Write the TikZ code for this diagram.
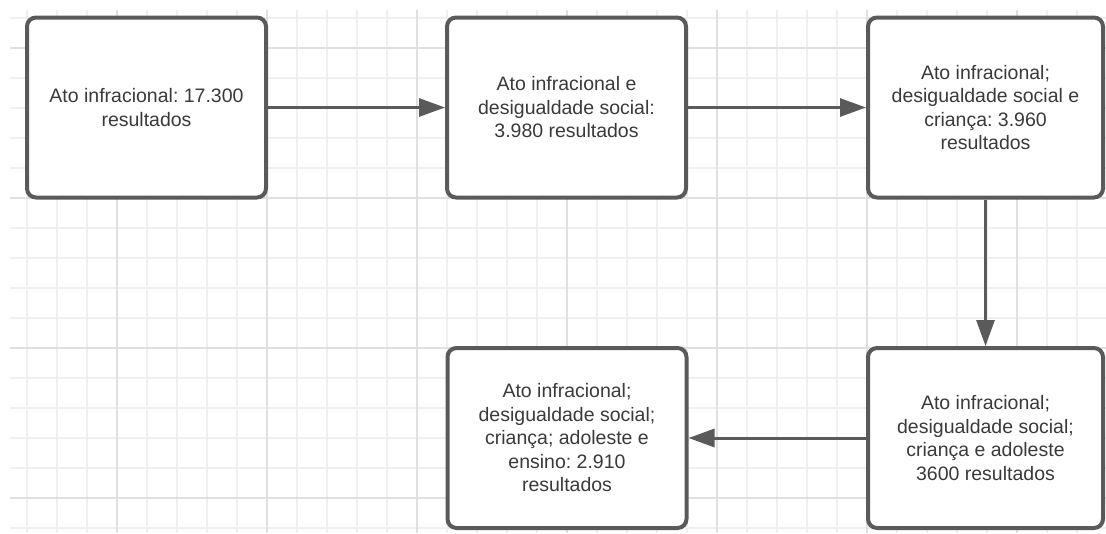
\documentclass[tikz,border=0pt]{standalone}
\usepackage{fontspec}
\setmainfont{Liberation Sans}
\usetikzlibrary{arrows.meta}
\frenchspacing
\definecolor{boxgray}{HTML}{5A5A5A}
\definecolor{gridlight}{HTML}{EFEFEF}
\definecolor{griddark}{HTML}{E0E0E0}
\definecolor{textgray}{HTML}{3A3A3A}
\tikzset{
	etapa/.style={draw=boxgray, line width=4pt, rounded corners=9pt, fill=white,
		minimum width=239pt, minimum height=180pt, inner sep=0pt, align=center,
		text=textgray, font=\fontsize{19.5}{23.5}\selectfont},
	seta/.style={draw=boxgray, line width=3pt, -{Triangle[length=26pt,width=18pt]}},
	grade/.style={line width=2pt}
}
\begin{document}
\begin{tikzpicture}[x=1pt, y=-1pt]
			\def \xmin{10}
			\def \xmax{1106}
			\def \ymin{10}
			\def \ymax{533}
			\useasboundingbox (0,0) rectangle (1106,533);
			\foreach \x in {27,57,...,1077} \draw[grade, gridlight] (\x,\ymin)--(\x,\ymax);
			\foreach \y in {18,48,...,528} \draw[grade, gridlight] (\xmin,\y)--(\xmax,\y);
			\foreach \x in {117,267,...,1017} \draw[grade, griddark] (\x,\ymin)--(\x,\ymax);
			\foreach \y in {48,198,...,498} \draw[grade, griddark] (\xmin,\y)--(\xmax,\y);
			\node[etapa] (ato) at (146.5,107.5) {Ato infracional: 17.300\\resultados};
			\node[etapa] (desig) at (566.5,107.5) {Ato infracional e\\desigualdade social:\\3.980 resultados};
			\node[etapa, minimum width=235pt] (crianca) at (985.5,107.5) {Ato infracional;\\desigualdade social e\\criança: 3.960\\resultados};
			\node[etapa, minimum width=235pt] (adol) at (985.5,438) {Ato infracional;\\desigualdade social;\\criança e adoleste\\3600 resultados};
			\node[etapa] (ensino) at (567,438) {Ato infracional;\\desigualdade social;\\criança; adoleste e\\ensino: 2.910\\resultados};
			\draw[seta] (ato)--(desig);
			\draw[seta] (desig)--(crianca);
			\draw[seta] (crianca)--(adol);
			\draw[seta] (adol)--(ensino);
		\end{tikzpicture}
\end{document}
